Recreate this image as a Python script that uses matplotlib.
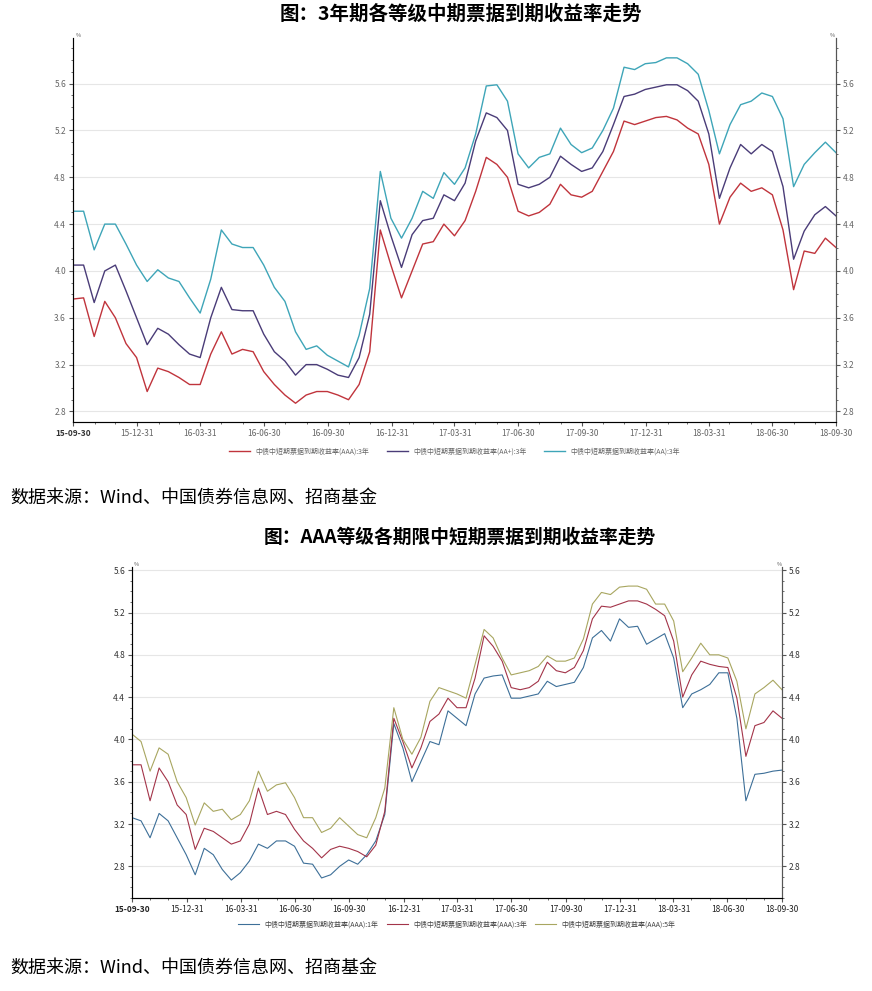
import pandas as pd
import matplotlib
matplotlib.use("Agg")
import matplotlib.pyplot as plt
import matplotlib.dates as mdates
from matplotlib.ticker import AutoMinorLocator, FixedLocator

plt.rcParams['font.family'] = ['Noto Sans CJK SC', 'DejaVu Sans']

# ------------------------------
# Data (about every half month)
# ------------------------------
dates = pd.date_range('2015-09-30', '2018-09-30', periods=73)

# chart 1: 3Y yields by rating
aaa_3y_top = [3.76, 3.77, 3.44, 3.74, 3.60, 3.38, 3.26, 2.97, 3.17, 3.14,
              3.09, 3.03, 3.03, 3.29, 3.48, 3.29, 3.33, 3.31, 3.14, 3.03,
              2.94, 2.87, 2.94, 2.97, 2.97, 2.94, 2.90, 3.03, 3.31, 4.35,
              4.05, 3.77, 4.00, 4.23, 4.25, 4.40, 4.30, 4.43, 4.68, 4.97,
              4.91, 4.80, 4.51, 4.47, 4.50, 4.57, 4.74, 4.65, 4.63, 4.68,
              4.85, 5.02, 5.28, 5.25, 5.28, 5.31, 5.32, 5.29, 5.22, 5.17,
              4.91, 4.40, 4.63, 4.75, 4.68, 4.71, 4.65, 4.35, 3.84, 4.17,
              4.15, 4.28, 4.20]
aaplus_3y = [4.05, 4.05, 3.73, 4.00, 4.05, 3.83, 3.60, 3.37, 3.51, 3.46,
             3.37, 3.29, 3.26, 3.60, 3.86, 3.67, 3.66, 3.66, 3.46, 3.31,
             3.23, 3.11, 3.20, 3.20, 3.16, 3.11, 3.09, 3.26, 3.63, 4.60,
             4.30, 4.03, 4.31, 4.43, 4.45, 4.65, 4.60, 4.75, 5.11, 5.35,
             5.31, 5.20, 4.74, 4.71, 4.74, 4.80, 4.98, 4.91, 4.85, 4.88,
             5.02, 5.25, 5.49, 5.51, 5.55, 5.57, 5.59, 5.59, 5.54, 5.45,
             5.17, 4.62, 4.88, 5.08, 5.00, 5.08, 5.02, 4.72, 4.10, 4.34,
             4.48, 4.55, 4.47]
aa_3y = [4.51, 4.51, 4.18, 4.40, 4.40, 4.23, 4.05, 3.91, 4.01, 3.94,
         3.91, 3.77, 3.64, 3.93, 4.35, 4.23, 4.20, 4.20, 4.05, 3.86,
         3.74, 3.48, 3.33, 3.36, 3.28, 3.23, 3.18, 3.45, 3.85, 4.85,
         4.45, 4.28, 4.45, 4.68, 4.62, 4.84, 4.74, 4.88, 5.17, 5.58,
         5.59, 5.45, 5.00, 4.88, 4.97, 5.00, 5.22, 5.08, 5.01, 5.05,
         5.20, 5.39, 5.74, 5.72, 5.77, 5.78, 5.82, 5.82, 5.77, 5.68,
         5.37, 5.00, 5.25, 5.42, 5.45, 5.52, 5.49, 5.30, 4.72, 4.91,
         5.01, 5.10, 5.01]

# chart 2: AAA yields by tenor
aaa_1y = [3.26, 3.23, 3.07, 3.30, 3.23, 3.07, 2.91, 2.72, 2.97, 2.91,
          2.77, 2.67, 2.74, 2.85, 3.01, 2.97, 3.04, 3.04, 2.99, 2.83,
          2.82, 2.69, 2.72, 2.80, 2.86, 2.82, 2.91, 3.04, 3.29, 4.15,
          3.92, 3.60, 3.79, 3.98, 3.95, 4.27, 4.20, 4.13, 4.43, 4.58,
          4.60, 4.61, 4.39, 4.39, 4.41, 4.43, 4.55, 4.50, 4.52, 4.54,
          4.68, 4.96, 5.03, 4.93, 5.14, 5.06, 5.07, 4.90, 4.95, 5.00,
          4.77, 4.30, 4.43, 4.47, 4.52, 4.63, 4.63, 4.20, 3.42, 3.67,
          3.68, 3.70, 3.71]
aaa_3y = [3.76, 3.76, 3.42, 3.73, 3.60, 3.38, 3.29, 2.96, 3.16, 3.13,
          3.07, 3.01, 3.04, 3.20, 3.54, 3.29, 3.32, 3.29, 3.15, 3.04,
          2.97, 2.88, 2.96, 2.99, 2.97, 2.94, 2.89, 3.00, 3.32, 4.20,
          3.98, 3.73, 3.92, 4.17, 4.24, 4.39, 4.30, 4.30, 4.58, 4.98,
          4.88, 4.74, 4.49, 4.47, 4.49, 4.55, 4.73, 4.65, 4.63, 4.68,
          4.84, 5.14, 5.26, 5.25, 5.28, 5.31, 5.31, 5.28, 5.23, 5.17,
          4.93, 4.40, 4.61, 4.74, 4.71, 4.69, 4.68, 4.39, 3.84, 4.13,
          4.16, 4.27, 4.20]
aaa_5y = [4.05, 3.98, 3.70, 3.92, 3.86, 3.60, 3.45, 3.19, 3.40, 3.32,
          3.34, 3.24, 3.29, 3.42, 3.70, 3.51, 3.57, 3.59, 3.45, 3.26,
          3.26, 3.12, 3.16, 3.26, 3.18, 3.10, 3.07, 3.26, 3.54, 4.30,
          4.00, 3.86, 4.02, 4.36, 4.49, 4.46, 4.43, 4.39, 4.71, 5.04,
          4.96, 4.77, 4.61, 4.63, 4.65, 4.69, 4.79, 4.74, 4.74, 4.77,
          4.95, 5.28, 5.39, 5.37, 5.44, 5.45, 5.45, 5.42, 5.28, 5.28,
          5.12, 4.64, 4.77, 4.91, 4.80, 4.80, 4.77, 4.55, 4.10, 4.43,
          4.49, 4.56, 4.47]

top_labels = ['中债中短期票据到期收益率(AAA):3年',
              '中债中短期票据到期收益率(AA+):3年',
              '中债中短期票据到期收益率(AA):3年']
bottom_labels = ['中债中短期票据到期收益率(AAA):1年',
                 '中债中短期票据到期收益率(AAA):3年',
                 '中债中短期票据到期收益率(AAA):5年']
top_colors = ['#c0343c', '#4a3c78', '#3ea5b8']
bottom_colors = ['#3d6f98', '#a33449', '#a8a660']

quarter_ends = pd.to_datetime(['2015-09-30', '2015-12-31', '2016-03-31', '2016-06-30',
                               '2016-09-30', '2016-12-31', '2017-03-31', '2017-06-30',
                               '2017-09-30', '2017-12-31', '2018-03-31', '2018-06-30',
                               '2018-09-30'])
tick_text = [d.strftime('%y-%m-%d') for d in quarter_ends]
y_ticks = [2.8, 3.2, 3.6, 4.0, 4.4, 4.8, 5.2, 5.6]

fig = plt.figure(figsize=(8.72, 9.91), dpi=100)


def style_axes(ax, ylim, label_color, bold_ticks):
    ax.set_xlim(quarter_ends[0], quarter_ends[-1])
    ax.set_ylim(*ylim)
    ax.set_yticks(y_ticks)
    ax.set_yticklabels([f'{v:.1f}' for v in y_ticks])
    ax.yaxis.set_minor_locator(AutoMinorLocator(4))
    ax.xaxis.set_major_locator(FixedLocator(mdates.date2num(quarter_ends)))
    ax.set_xticklabels(tick_text)
    ax.xaxis.set_minor_locator(mdates.MonthLocator(bymonthday=-1))
    ax.grid(axis='y', color='#e6e6e6', linewidth=0.8)
    ax.set_axisbelow(True)
    ax.spines['top'].set_visible(False)
    for s in ['left', 'right', 'bottom']:
        ax.spines[s].set_color('#555555')
        ax.spines[s].set_linewidth(0.8)
    ax.tick_params(axis='both', which='major', labelsize=6, length=3,
                   color='#555555', labelcolor=label_color, pad=2)
    ax.tick_params(axis='both', which='minor', length=1.5, color='#555555')
    labels = ax.get_xticklabels()
    labels[0].set_fontweight('bold')
    labels[0].set_color('#333333')
    if bold_ticks:
        for lb in labels:
            lb.set_color('#222222')
    ax.text(0.003, 1.0, '%', transform=ax.transAxes, fontsize=4,
            color='#555555', va='bottom')
    # right hand axis with same scale
    rax = ax.twinx()
    rax.set_ylim(*ylim)
    rax.set_yticks(y_ticks)
    rax.set_yticklabels([f'{v:.1f}' for v in y_ticks])
    rax.yaxis.set_minor_locator(AutoMinorLocator(4))
    rax.spines['top'].set_visible(False)
    rax.spines['right'].set_color('#555555')
    rax.spines['right'].set_linewidth(0.8)
    rax.tick_params(axis='y', which='major', labelsize=6, length=3,
                    color='#555555', labelcolor=label_color, pad=2)
    rax.tick_params(axis='y', which='minor', length=1.5, color='#555555')
    rax.text(0.992, 1.0, '%', transform=ax.transAxes, fontsize=4,
             color='#555555', va='bottom')


# ------------------------------
# Chart 1
# ------------------------------
fig.text(0.528, 0.986, '图：3年期各等级中期票据到期收益率走势', ha='center', va='center',
         fontsize=14, fontweight='bold')
ax1 = fig.add_axes([0.0837, 0.5742, 0.875, 0.3875])
for vals, lab, col in zip([aaa_3y_top, aaplus_3y, aa_3y], top_labels, top_colors):
    ax1.plot(dates, vals, color=col, linewidth=1.0, label=lab)
style_axes(ax1, (2.71, 5.99), '#666666', False)
ax1.legend(loc='upper center', bbox_to_anchor=(0.5, -0.05), ncol=3, frameon=False,
           fontsize=5, handlelength=3, columnspacing=2.5, labelcolor='#666666')

fig.text(0.012, 0.498, '数据来源：Wind、中国债券信息网、招商基金', ha='left', va='center',
         fontsize=13)

# ------------------------------
# Chart 2
# ------------------------------
fig.text(0.527, 0.458, '图：AAA等级各期限中短期票据到期收益率走势', ha='center', va='center',
         fontsize=13.5, fontweight='bold')
ax2 = fig.add_axes([0.1514, 0.0938, 0.7454, 0.334])
for vals, lab, col in zip([aaa_1y, aaa_3y, aaa_5y], bottom_labels, bottom_colors):
    ax2.plot(dates, vals, color=col, linewidth=0.8, label=lab)
style_axes(ax2, (2.5, 5.63), '#333333', True)
ax2.legend(loc='upper center', bbox_to_anchor=(0.5, -0.05), ncol=3, frameon=False,
           fontsize=5, handlelength=3, columnspacing=1.2, labelcolor='#444444')

fig.text(0.012, 0.024, '数据来源：Wind、中国债券信息网、招商基金', ha='left', va='center',
         fontsize=13)

fig.savefig('out.png', dpi=100, facecolor='white')
